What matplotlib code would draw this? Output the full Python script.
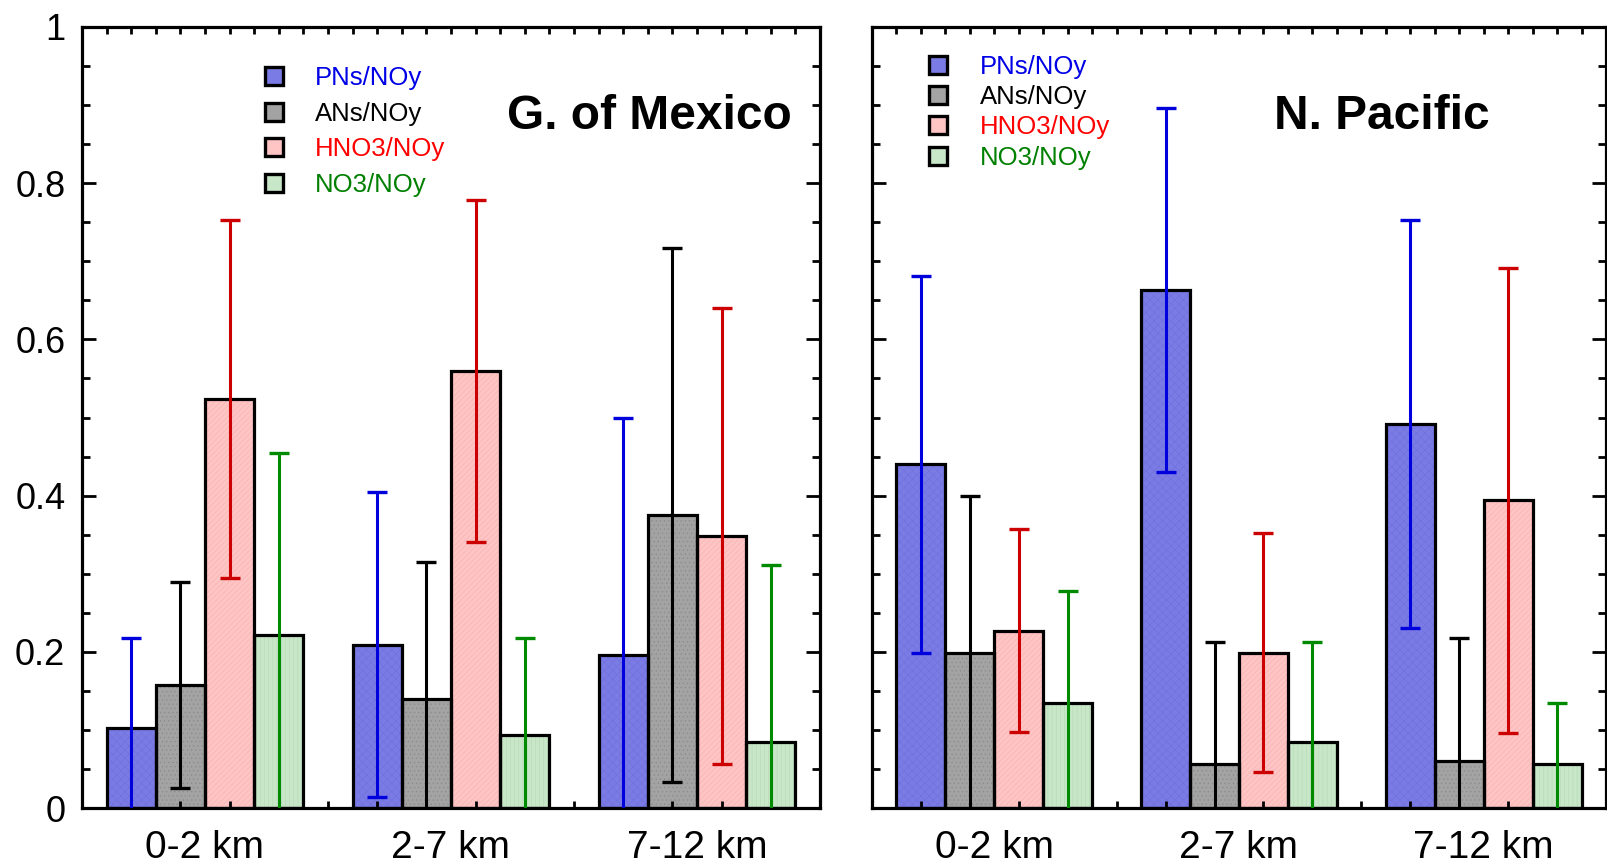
import numpy as np
import matplotlib
matplotlib.use("Agg")
import matplotlib.pyplot as plt
from matplotlib.lines import Line2D
from matplotlib.ticker import MultipleLocator

plt.rcParams['font.family'] = ['Liberation Sans', 'DejaVu Sans']

# ---------------- data ----------------
altitudes = ["0-2 km", "2-7 km", "7-12 km"]
series = ["PNs/NOy", "ANs/NOy", "HNO3/NOy", "NO3/NOy"]
regions = ["G. of Mexico", "N. Pacific"]
yticklabels = ['0', '0.2', '0.4', '0.6', '0.8', '1']

# Gulf of Mexico: values per altitude bin
gom_pns = [0.102, 0.209, 0.196]
gom_ans = [0.157, 0.139, 0.375]
gom_hno3 = [0.524, 0.560, 0.348]
gom_no3 = [0.222, 0.093, 0.084]
gom_pns_err = [0.116, 0.195, 0.304]
gom_ans_err = [0.132, 0.176, 0.342]
gom_hno3_err = [0.229, 0.219, 0.292]
gom_no3_err = [0.232, 0.125, 0.227]

# North Pacific
np_pns = [0.440, 0.663, 0.492]
np_ans = [0.199, 0.056, 0.060]
np_hno3 = [0.227, 0.199, 0.394]
np_no3 = [0.135, 0.084, 0.056]
np_pns_err = [0.241, 0.233, 0.261]
np_ans_err = [0.201, 0.157, 0.158]
np_hno3_err = [0.130, 0.153, 0.298]
np_no3_err = [0.143, 0.129, 0.079]

# ---------------- style ----------------
fill_colors = ['#7b7be6', '#a3a3a3', '#ffc4c4', '#c8e6c8']
err_colors = ['#0000dd', '#000000', '#cc0000', '#008a00']
text_colors = ['#0000e6', '#000000', '#ff0000', '#008000']
hatches = ['xxxx', '....', '//////', '||||']
hatch_colors = ['#7070dc', '#8a8a8a', '#f5b0b0', '#b4dab4']

plt.rcParams['hatch.linewidth'] = 0.4

fig = plt.figure(figsize=(16.08, 8.64), dpi=100)
ax_l = fig.add_axes([82/1608, 1-808/864, (820-82)/1608, (808-27)/864])
ax_r = fig.add_axes([872/1608, 1-808/864, (1606-872)/1608, (808-27)/864])

panels = [
    (ax_l, [gom_pns, gom_ans, gom_hno3, gom_no3],
     [gom_pns_err, gom_ans_err, gom_hno3_err, gom_no3_err]),
    (ax_r, [np_pns, np_ans, np_hno3, np_no3],
     [np_pns_err, np_ans_err, np_hno3_err, np_no3_err]),
]

group_step = 10.0
bar_w = 2.0
group_idx = np.arange(len(altitudes))

lw = 2.3
for k, (ax, vals, errs) in enumerate(panels):
    for j in range(len(series)):
        x = group_idx * group_step + 2 + bar_w * j
        ax.bar(x, vals[j], width=bar_w, color=fill_colors[j],
               edgecolor=hatch_colors[j], hatch=hatches[j], linewidth=0, zorder=1)
        ax.bar(x, vals[j], width=bar_w, facecolor='none',
               edgecolor='black', linewidth=lw, zorder=2)
        ax.errorbar(x, vals[j], yerr=errs[j], fmt='none', ecolor=err_colors[j],
                    elinewidth=2.2, capsize=7, capthick=2.4, zorder=3)

    ax.set_xlim(0, 30)
    ax.set_ylim(0, 1)
    ax.set_xticks(group_idx * group_step + 5)
    ax.set_xticklabels(altitudes, fontsize=28)
    ax.xaxis.set_minor_locator(MultipleLocator(1))
    ax.set_yticks([0, 0.2, 0.4, 0.6, 0.8, 1.0])
    ax.yaxis.set_minor_locator(MultipleLocator(0.05))
    ax.tick_params(axis='x', which='both', direction='in', top=True, bottom=True,
                   length=5, width=2.0, pad=15.5)
    ax.tick_params(axis='y', which='major', direction='in', left=True, right=True,
                   length=10, width=2.0, pad=12, labelsize=26)
    ax.tick_params(axis='y', which='minor', direction='in', left=True, right=True,
                   length=6, width=2.0)
    for sp in ax.spines.values():
        sp.set_linewidth(lw)
    if k == 0:
        ax.set_yticklabels(yticklabels)
    else:
        ax.tick_params(axis='y', labelleft=False)

# titles
ax_l.text(0.962, 0.886, regions[0], transform=ax_l.transAxes, ha='right', va='center',
          fontsize=34.5, fontweight='bold')
ax_r.text(0.695, 0.886, regions[1], transform=ax_r.transAxes, ha='center', va='center',
          fontsize=34.5, fontweight='bold')

# legends
def make_handles():
    return [Line2D([], [], linestyle='none', marker='s', markersize=12.5,
                   markerfacecolor=fill_colors[j], markeredgecolor='black',
                   markeredgewidth=2.4) for j in range(len(series))]

ax_l.legend(make_handles(), series, loc='upper left', bbox_to_anchor=(0.243, 0.950),
            frameon=False, fontsize=18.5, labelcolor=text_colors, borderpad=0,
            borderaxespad=0, handlelength=1.0, handletextpad=1.1, labelspacing=0.45)
ax_r.legend(make_handles(), series, loc='upper left', bbox_to_anchor=(0.072, 0.964),
            frameon=False, fontsize=18.5, labelcolor=text_colors, borderpad=0,
            borderaxespad=0, handlelength=1.0, handletextpad=1.14, labelspacing=0.24)

fig.savefig("out.png", dpi=100)
